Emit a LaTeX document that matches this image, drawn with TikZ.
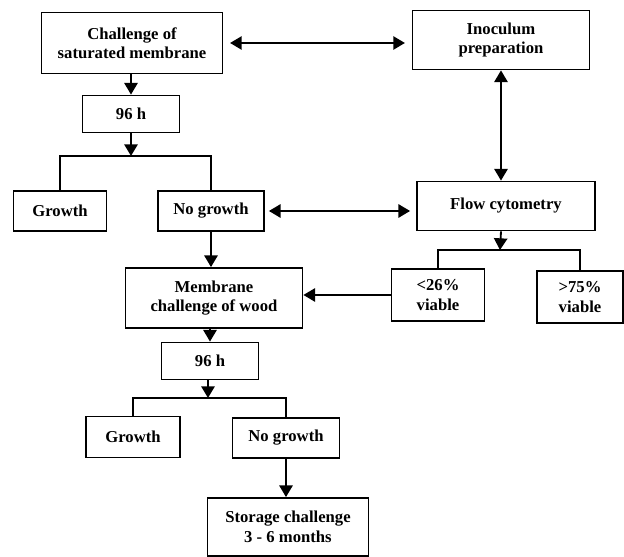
\documentclass[tikz,border=0pt]{standalone}
\usepackage{fontspec}
\setmainfont{Liberation Serif}
\usetikzlibrary{arrows.meta}

\begin{document}
\begin{tikzpicture}[x=0.6pt, y=-0.6pt,
		box/.style={draw, line width=1.1pt, align=center, inner sep=0pt, font=\fontsize{10}{11.7}\selectfont\bfseries},
		arr/.style={line width=1.1pt, -{Triangle[length=7pt, width=8pt]}},
		darr/.style={line width=1.1pt, {Triangle[length=7pt, width=8pt]}-{Triangle[length=7pt, width=8pt]}},
		link/.style={line width=1.1pt}]
		\useasboundingbox (0,0) rectangle (624,557);
		\node[box, minimum width=108.6pt, minimum height=36.6pt] at (132,43) (chal) {Challenge of\\saturated membrane};
		\node[box, minimum width=106.2pt, minimum height=35.4pt] at (501,40) (inoc) {Inoculum\\preparation};
		\node[box, minimum width=58.2pt, minimum height=22.2pt] at (131,114) (hA) {96 h};
		\node[box, minimum width=55.8pt, minimum height=24pt] at (60,211) (growA) {Growth};
		\node[box, minimum width=63.6pt, minimum height=24pt] at (211,211) (nogrowA) {No growth};
		\node[box, minimum width=106.8pt, minimum height=29.4pt] at (506,206) (flow) {Flow cytometry};
		\node[box, minimum width=106.2pt, minimum height=36pt] at (214,298) (wood) {Membrane\\challenge of wood};
		\node[box, minimum width=55.8pt, minimum height=31.2pt] at (438,295) (low) {<26\%\\viable};
		\node[box, minimum width=51.6pt, minimum height=31.2pt] at (580,297) (high) {>75\%\\viable};
		\node[box, minimum width=58.2pt, minimum height=22.2pt] at (210,361) (hB) {96 h};
		\node[box, minimum width=56.4pt, minimum height=24.6pt] at (133,437) (growB) {Growth};
		\node[box, minimum width=64.2pt, minimum height=24pt] at (286,438) (nogrowB) {No growth};
		\node[box, minimum width=96.6pt, minimum height=34.8pt] at (288,527) (store) {Storage challenge\\3 - 6 months};
		\coordinate (brA) at (131,156);
		\coordinate (brF) at (500,250);
		\coordinate (brB) at (208,398);
		% top branch
		\draw[darr, shorten <=4pt, shorten >=4pt] (chal.east) -- (chal.east -| inoc.west);
		\draw[darr] (inoc.south) -- (inoc.south |- flow.north);
		\draw[arr] (chal.south -| hA.north) -- (hA.north);
		\draw[arr] (hA.south) -- (brA);
		\draw[link] (growA.north) |- (brA) -| (nogrowA.north);
		\draw[darr, shorten <=2.4pt, shorten >=3.6pt] (nogrowA.east) -- (nogrowA.east -| flow.west);
		% flow cytometry branch
		\draw[arr] (inoc.south |- flow.south) -- (brF);
		\draw[link] (low.north) |- (brF) -| (high.north);
		\draw[arr] (low.west) -- (low.west -| wood.east);
		% wood branch
		\draw[arr] (nogrowA.south) -- (nogrowA.south |- wood.north);
		\draw[arr] (hB.north |- wood.south) -- (hB.north);
		\draw[arr] (hB.south -| brB) -- (brB);
		\draw[link] (growB.north) |- (brB) -| (nogrowB.north);
		\draw[arr] (nogrowB.south) -- (nogrowB.south |- store.north);
	\end{tikzpicture}
\end{document}
